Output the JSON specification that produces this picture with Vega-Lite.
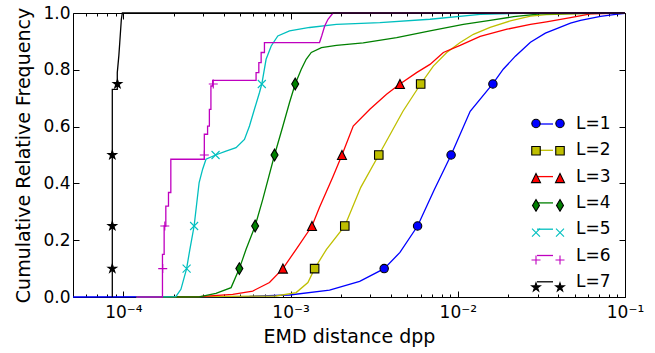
{
  "$schema": "https://vega.github.io/schema/vega-lite/v6.json",
  "width": 552,
  "height": 284,
  "autosize": {"type": "none"},
  "padding": {"left": 73, "top": 13, "right": 30, "bottom": 56},
  "background": "white",
  "config": {
    "font": "DejaVu Sans",
    "view": {"stroke": "#000000", "strokeWidth": 1},
    "axis": {"grid": false, "domain": false, "labelFlush": false, "labelFont": "DejaVu Sans", "titleFont": "DejaVu Sans", "labelColor": "#000000", "titleColor": "#000000", "tickColor": "#000000", "tickWidth": 1, "titleFontWeight": "normal", "labelFontSize": 17, "titleFontSize": 19},
    "legend": {"labelFont": "DejaVu Sans", "labelColor": "#000000", "labelFontSize": 17}
  },
  "resolve": {"scale": {"fill": "independent", "shape": "independent", "stroke": "independent"}},
  "datasets": {
    "lines": [
      {"series": "L=1", "x": 5e-5, "y": 0}, {"series": "L=1", "x": 2.84e-4, "y": 0.001}, {"series": "L=1", "x": 5.68e-4, "y": 0.0025}, {"series": "L=1", "x": 9.86e-4, "y": 0.007}, {"series": "L=1", "x": 1.71e-3, "y": 0.024}, {"series": "L=1", "x": 2.59e-3, "y": 0.055}, {"series": "L=1", "x": 3.63e-3, "y": 0.1}, {"series": "L=1", "x": 4.51e-3, "y": 0.157}, {"series": "L=1", "x": 5.75e-3, "y": 0.25}, {"series": "L=1", "x": 7.21e-3, "y": 0.376}, {"series": "L=1", "x": 9.12e-3, "y": 0.5}, {"series": "L=1", "x": 0.01186, "y": 0.654}, {"series": "L=1", "x": 0.01622, "y": 0.751}, {"series": "L=1", "x": 0.0187, "y": 0.802}, {"series": "L=1", "x": 0.0221, "y": 0.848}, {"series": "L=1", "x": 0.0272, "y": 0.897}, {"series": "L=1", "x": 0.0334, "y": 0.929}, {"series": "L=1", "x": 0.0394, "y": 0.946}, {"series": "L=1", "x": 0.0472, "y": 0.964}, {"series": "L=1", "x": 0.0542, "y": 0.974}, {"series": "L=1", "x": 0.0714, "y": 0.988}, {"series": "L=1", "x": 0.0879, "y": 0.995}, {"series": "L=1", "x": 0.1, "y": 0.999},
      {"series": "L=2", "x": 1.2e-4, "y": 0}, {"series": "L=2", "x": 2.84e-4, "y": 0.001}, {"series": "L=2", "x": 8.2e-4, "y": 0.0035}, {"series": "L=2", "x": 1.08e-3, "y": 0.0155}, {"series": "L=2", "x": 1.27e-3, "y": 0.0507}, {"series": "L=2", "x": 1.393e-3, "y": 0.1}, {"series": "L=2", "x": 1.64e-3, "y": 0.168}, {"series": "L=2", "x": 2.11e-3, "y": 0.25}, {"series": "L=2", "x": 2.63e-3, "y": 0.386}, {"series": "L=2", "x": 3.37e-3, "y": 0.5}, {"series": "L=2", "x": 4.7e-3, "y": 0.654}, {"series": "L=2", "x": 6.0e-3, "y": 0.75}, {"series": "L=2", "x": 7.14e-3, "y": 0.813}, {"series": "L=2", "x": 8.59e-3, "y": 0.861}, {"series": "L=2", "x": 0.01033, "y": 0.896}, {"series": "L=2", "x": 0.0124, "y": 0.925}, {"series": "L=2", "x": 0.0156, "y": 0.949}, {"series": "L=2", "x": 0.0206, "y": 0.972}, {"series": "L=2", "x": 0.0272, "y": 0.989}, {"series": "L=2", "x": 0.0339, "y": 0.994}, {"series": "L=2", "x": 0.0542, "y": 0.998}, {"series": "L=2", "x": 0.1, "y": 1},
      {"series": "L=3", "x": 1.2e-4, "y": 0}, {"series": "L=3", "x": 2.84e-4, "y": 0.001}, {"series": "L=3", "x": 4.51e-4, "y": 0.0095}, {"series": "L=3", "x": 5.94e-4, "y": 0.021}, {"series": "L=3", "x": 7.48e-4, "y": 0.051}, {"series": "L=3", "x": 9.0e-4, "y": 0.1}, {"series": "L=3", "x": 1.08e-3, "y": 0.168}, {"series": "L=3", "x": 1.343e-3, "y": 0.25}, {"series": "L=3", "x": 1.49e-3, "y": 0.316}, {"series": "L=3", "x": 1.787e-3, "y": 0.422}, {"series": "L=3", "x": 2.03e-3, "y": 0.5}, {"series": "L=3", "x": 2.37e-3, "y": 0.602}, {"series": "L=3", "x": 2.98e-3, "y": 0.661}, {"series": "L=3", "x": 3.75e-3, "y": 0.714}, {"series": "L=3", "x": 4.51e-3, "y": 0.75}, {"series": "L=3", "x": 5.67e-3, "y": 0.79}, {"series": "L=3", "x": 6.82e-3, "y": 0.819}, {"series": "L=3", "x": 8.2e-3, "y": 0.861}, {"series": "L=3", "x": 0.01033, "y": 0.886}, {"series": "L=3", "x": 0.01361, "y": 0.918}, {"series": "L=3", "x": 0.0197, "y": 0.943}, {"series": "L=3", "x": 0.0272, "y": 0.96}, {"series": "L=3", "x": 0.0339, "y": 0.969}, {"series": "L=3", "x": 0.0472, "y": 0.984}, {"series": "L=3", "x": 0.0622, "y": 0.997}, {"series": "L=3", "x": 0.1, "y": 1},
      {"series": "L=4", "x": 1.2e-4, "y": 0}, {"series": "L=4", "x": 2.84e-4, "y": 0.0005}, {"series": "L=4", "x": 3.58e-4, "y": 0.013}, {"series": "L=4", "x": 4.41e-4, "y": 0.033}, {"series": "L=4", "x": 4.94e-4, "y": 0.1}, {"series": "L=4", "x": 5.42e-4, "y": 0.168}, {"series": "L=4", "x": 6.14e-4, "y": 0.25}, {"series": "L=4", "x": 6.82e-4, "y": 0.344}, {"series": "L=4", "x": 8.02e-4, "y": 0.5}, {"series": "L=4", "x": 9.0e-4, "y": 0.602}, {"series": "L=4", "x": 9.86e-4, "y": 0.685}, {"series": "L=4", "x": 1.066e-3, "y": 0.75}, {"series": "L=4", "x": 1.159e-3, "y": 0.802}, {"series": "L=4", "x": 1.24e-3, "y": 0.837}, {"series": "L=4", "x": 1.33e-3, "y": 0.861}, {"series": "L=4", "x": 1.53e-3, "y": 0.878}, {"series": "L=4", "x": 1.88e-3, "y": 0.886}, {"series": "L=4", "x": 2.72e-3, "y": 0.895}, {"series": "L=4", "x": 4.31e-3, "y": 0.913}, {"series": "L=4", "x": 6.82e-3, "y": 0.937}, {"series": "L=4", "x": 0.0108, "y": 0.96}, {"series": "L=4", "x": 0.0156, "y": 0.974}, {"series": "L=4", "x": 0.0216, "y": 0.987}, {"series": "L=4", "x": 0.0312, "y": 0.997}, {"series": "L=4", "x": 0.1, "y": 1},
      {"series": "L=5", "x": 1.2e-4, "y": 0}, {"series": "L=5", "x": 2.06e-4, "y": 0.001}, {"series": "L=5", "x": 2.21e-4, "y": 0.027}, {"series": "L=5", "x": 2.39e-4, "y": 0.1}, {"series": "L=5", "x": 2.5e-4, "y": 0.168}, {"series": "L=5", "x": 2.65e-4, "y": 0.25}, {"series": "L=5", "x": 2.84e-4, "y": 0.403}, {"series": "L=5", "x": 2.98e-4, "y": 0.45}, {"series": "L=5", "x": 3.12e-4, "y": 0.485}, {"series": "L=5", "x": 3.56e-4, "y": 0.5}, {"series": "L=5", "x": 4.11e-4, "y": 0.514}, {"series": "L=5", "x": 4.72e-4, "y": 0.526}, {"series": "L=5", "x": 5.3e-4, "y": 0.555}, {"series": "L=5", "x": 5.68e-4, "y": 0.602}, {"series": "L=5", "x": 6.08e-4, "y": 0.661}, {"series": "L=5", "x": 6.52e-4, "y": 0.72}, {"series": "L=5", "x": 6.73e-4, "y": 0.75}, {"series": "L=5", "x": 7.14e-4, "y": 0.837}, {"series": "L=5", "x": 7.66e-4, "y": 0.884}, {"series": "L=5", "x": 8.39e-4, "y": 0.919}, {"series": "L=5", "x": 9.86e-4, "y": 0.937}, {"series": "L=5", "x": 1.3e-3, "y": 0.949}, {"series": "L=5", "x": 1.88e-3, "y": 0.96}, {"series": "L=5", "x": 3.42e-3, "y": 0.966}, {"series": "L=5", "x": 6.82e-3, "y": 0.978}, {"series": "L=5", "x": 0.01361, "y": 0.995}, {"series": "L=5", "x": 0.0272, "y": 0.9995}, {"series": "L=5", "x": 0.1, "y": 1},
      {"series": "L=6", "x": 1.2e-4, "y": 0}, {"series": "L=6", "x": 1.714e-4, "y": 0}, {"series": "L=6", "x": 1.714e-4, "y": 0.15}, {"series": "L=6", "x": 1.754e-4, "y": 0.15}, {"series": "L=6", "x": 1.754e-4, "y": 0.25}, {"series": "L=6", "x": 1.795e-4, "y": 0.25}, {"series": "L=6", "x": 1.795e-4, "y": 0.32}, {"series": "L=6", "x": 1.862e-4, "y": 0.32}, {"series": "L=6", "x": 1.862e-4, "y": 0.368}, {"series": "L=6", "x": 1.923e-4, "y": 0.368}, {"series": "L=6", "x": 1.923e-4, "y": 0.485}, {"series": "L=6", "x": 3.05e-4, "y": 0.485}, {"series": "L=6", "x": 3.05e-4, "y": 0.573}, {"series": "L=6", "x": 3.19e-4, "y": 0.573}, {"series": "L=6", "x": 3.19e-4, "y": 0.602}, {"series": "L=6", "x": 3.27e-4, "y": 0.602}, {"series": "L=6", "x": 3.27e-4, "y": 0.661}, {"series": "L=6", "x": 3.34e-4, "y": 0.661}, {"series": "L=6", "x": 3.34e-4, "y": 0.743}, {"series": "L=6", "x": 3.42e-4, "y": 0.743}, {"series": "L=6", "x": 3.42e-4, "y": 0.763}, {"series": "L=6", "x": 6.22e-4, "y": 0.763}, {"series": "L=6", "x": 6.22e-4, "y": 0.79}, {"series": "L=6", "x": 6.46e-4, "y": 0.79}, {"series": "L=6", "x": 6.46e-4, "y": 0.825}, {"series": "L=6", "x": 6.67e-4, "y": 0.825}, {"series": "L=6", "x": 6.67e-4, "y": 0.861}, {"series": "L=6", "x": 6.98e-4, "y": 0.861}, {"series": "L=6", "x": 6.98e-4, "y": 0.896}, {"series": "L=6", "x": 1.49e-3, "y": 0.896}, {"series": "L=6", "x": 1.535e-3, "y": 0.919}, {"series": "L=6", "x": 1.6e-3, "y": 0.954}, {"series": "L=6", "x": 1.675e-3, "y": 0.978}, {"series": "L=6", "x": 1.795e-3, "y": 1}, {"series": "L=6", "x": 0.1, "y": 1},
      {"series": "L=7", "x": 8.59e-5, "y": 0}, {"series": "L=7", "x": 8.59e-5, "y": 0.731}, {"series": "L=7", "x": 9.2e-5, "y": 0.731}, {"series": "L=7", "x": 9.2e-5, "y": 0.79}, {"series": "L=7", "x": 9.4e-5, "y": 0.85}, {"series": "L=7", "x": 9.52e-5, "y": 0.896}, {"series": "L=7", "x": 9.73e-5, "y": 0.978}, {"series": "L=7", "x": 9.87e-5, "y": 1}, {"series": "L=7", "x": 0.1, "y": 1}
    ],
    "marks": [
      {"L": "L=1", "x": 3.63e-3, "y": 0.1}, {"L": "L=1", "x": 5.75e-3, "y": 0.25}, {"L": "L=1", "x": 9.12e-3, "y": 0.5}, {"L": "L=1", "x": 0.01622, "y": 0.75},
      {"L": "L=2", "x": 1.393e-3, "y": 0.1}, {"L": "L=2", "x": 2.11e-3, "y": 0.25}, {"L": "L=2", "x": 3.37e-3, "y": 0.5}, {"L": "L=2", "x": 6.0e-3, "y": 0.75},
      {"L": "L=3", "x": 9.0e-4, "y": 0.1}, {"L": "L=3", "x": 1.343e-3, "y": 0.25}, {"L": "L=3", "x": 2.03e-3, "y": 0.5}, {"L": "L=3", "x": 4.51e-3, "y": 0.75},
      {"L": "L=4", "x": 4.94e-4, "y": 0.1}, {"L": "L=4", "x": 6.14e-4, "y": 0.25}, {"L": "L=4", "x": 8.02e-4, "y": 0.5}, {"L": "L=4", "x": 1.066e-3, "y": 0.75},
      {"L": "L=5", "x": 2.39e-4, "y": 0.1}, {"L": "L=5", "x": 2.65e-4, "y": 0.25}, {"L": "L=5", "x": 3.56e-4, "y": 0.5}, {"L": "L=5", "x": 6.73e-4, "y": 0.75},
      {"L": "L=6", "x": 1.72e-4, "y": 0.1}, {"L": "L=6", "x": 1.77e-4, "y": 0.25}, {"L": "L=6", "x": 3.05e-4, "y": 0.5}, {"L": "L=6", "x": 3.45e-4, "y": 0.75},
      {"L": "L=7", "x": 8.59e-5, "y": 0.1}, {"L": "L=7", "x": 8.59e-5, "y": 0.25}, {"L": "L=7", "x": 8.59e-5, "y": 0.5}, {"L": "L=7", "x": 9.22e-5, "y": 0.75}
    ]
  },
  "layer": [
    {
      "data": {"name": "lines"},
      "mark": {"type": "line", "strokeWidth": 1.3},
      "encoding": {
        "x": {"field": "x", "type": "quantitative", "scale": {"type": "log", "domain": [5e-5, 0.1], "nice": false},
          "axis": {"orient": "bottom", "values": [0.0001, 0.001, 0.01, 0.1], "labelExpr": "datum.value < 0.0002 ? '10⁻⁴' : datum.value < 0.002 ? '10⁻³' : datum.value < 0.02 ? '10⁻²' : '10⁻¹'", "ticks": false, "labelPadding": 7, "title": "EMD distance dpp", "titlePadding": 7}},
        "y": {"field": "y", "type": "quantitative", "scale": {"domain": [0, 1], "nice": false},
          "axis": {"orient": "left", "values": [0, 0.2, 0.4, 0.6, 0.8, 1], "format": ".1f", "ticks": false, "labelPadding": 3, "title": "Cumulative Relative Frequency", "titlePadding": 9}},
        "stroke": {"field": "series", "type": "nominal",
          "scale": {"range": ["#0000ff", "#bfbf00", "#ff0000", "#008000", "#00bfbf", "#bf00bf", "#000000"]},
          "legend": {"orient": "none", "legendX": 463, "legendY": 102, "title": null, "symbolType": "stroke", "symbolSize": 256, "symbolStrokeWidth": 1.3, "labelOffset": 22, "rowPadding": 9.3, "padding": 0}},
        "order": [{"field": "y", "type": "quantitative"}, {"field": "x", "type": "quantitative"}]
      }
    },
    {
      "data": {"name": "marks"},
      "mark": {"type": "point", "size": 100, "opacity": 1, "strokeWidth": 1.1},
      "encoding": {
        "x": {"field": "x", "type": "quantitative", "axis": {"orient": "top", "values": [0.0001, 0.001, 0.01, 0.1], "labels": false, "tickSize": -6, "title": null}},
        "y": {"field": "y", "type": "quantitative", "axis": {"orient": "right", "values": [0, 0.2, 0.4, 0.6, 0.8, 1], "labels": false, "tickSize": -6, "title": null}},
        "fill": {"field": "L", "type": "nominal", "legend": null,
          "scale": {"range": ["#0000ff", "#bfbf00", "#ff0000", "#008000", "#00bfbf", "#bf00bf", "#000000"]}},
        "shape": {"field": "L", "type": "nominal", "legend": null,
          "scale": {"range": [
            "M0.84,0A0.84,0.84,0,1,1,-0.84,0A0.84,0.84,0,1,1,0.84,0Z",
            "M-0.85,-0.85H0.85V0.85H-0.85Z",
            "M0,-0.9L0.9,0.9L-0.9,0.9Z",
            "M0,-1.17L0.7,0L0,1.17L-0.7,0Z",
            "M-0.8,-0.8L0.8,0.8M-0.8,0.8L0.8,-0.8",
            "M-0.9,0H0.9M0,-0.9V0.9",
            "M0,-0.9L0.202,-0.278L0.856,-0.278L0.327,0.106L0.529,0.728L0,0.344L-0.529,0.728L-0.327,0.106L-0.856,-0.278L-0.202,-0.278Z"
          ]}},
        "stroke": {"condition": [{"test": "datum.L === 'L=5'", "value": "#00bfbf"}, {"test": "datum.L === 'L=6'", "value": "#bf00bf"}], "value": "#000000"}
      }
    },
    {
      "data": {"name": "marks"},
      "mark": {"type": "point", "opacity": 0, "size": 100, "strokeWidth": 1.1},
      "encoding": {
        "x": {"field": "x", "type": "quantitative", "axis": {"orient": "bottom", "values": [0.0001, 0.001, 0.01, 0.1], "labels": false, "tickSize": -6, "title": null}},
        "y": {"field": "y", "type": "quantitative", "axis": {"orient": "left", "values": [0, 0.2, 0.4, 0.6, 0.8, 1], "labels": false, "tickSize": -6, "title": null}},
        "fill": {"field": "L", "type": "nominal",
          "scale": {"domain": ["L=1", "L=2", "L=3", "L=4", "L=5", "L=6", "L=7"], "range": ["#0000ff", "#bfbf00", "#ff0000", "#008000", "#00bfbf", "#bf00bf", "#000000"]},
          "legend": {"orient": "none", "legendX": 463, "legendY": 102, "title": null, "symbolSize": 100, "symbolOffset": 3.5, "labelExpr": "' '", "rowPadding": 9.3, "padding": 0, "symbolStrokeWidth": 1.1, "symbolOpacity": 1}},
        "shape": {"field": "L", "type": "nominal",
          "scale": {"domain": ["L=1", "L=2", "L=3", "L=4", "L=5", "L=6", "L=7"], "range": [
            "M-1.56,0A0.84,0.84,0,1,1,-3.24,0A0.84,0.84,0,1,1,-1.56,0ZM3.24,0A0.84,0.84,0,1,1,1.56,0A0.84,0.84,0,1,1,3.24,0Z",
            "M-3.25,-0.85H-1.55V0.85H-3.25ZM1.55,-0.85H3.25V0.85H1.55Z",
            "M-2.4,-0.9L-1.5,0.9L-3.3,0.9ZM2.4,-0.9L3.3,0.9L1.5,0.9Z",
            "M-2.4,-1.17L-1.7,0L-2.4,1.17L-3.1,0ZM2.4,-1.17L3.1,0L2.4,1.17L1.7,0Z",
            "M-3.2,-0.8L-1.6,0.8M-3.2,0.8L-1.6,-0.8M1.6,-0.8L3.2,0.8M1.6,0.8L3.2,-0.8",
            "M-3.3,0H-1.5M-2.4,-0.9V0.9M1.5,0H3.3M2.4,-0.9V0.9",
            "M-2.4,-0.9L-2.198,-0.278L-1.544,-0.278L-2.073,0.106L-1.871,0.728L-2.4,0.344L-2.929,0.728L-2.727,0.106L-3.256,-0.278L-2.602,-0.278ZM2.4,-0.9L2.602,-0.278L3.256,-0.278L2.727,0.106L2.929,0.728L2.4,0.344L1.871,0.728L2.073,0.106L1.544,-0.278L2.198,-0.278Z"
          ]},
          "legend": {"orient": "none", "legendX": 463, "legendY": 102, "title": null, "symbolSize": 100, "symbolOffset": 3.5, "labelExpr": "' '", "rowPadding": 9.3, "padding": 0, "symbolStrokeWidth": 1.1, "symbolOpacity": 1}},
        "stroke": {"field": "L", "type": "nominal",
          "scale": {"domain": ["L=1", "L=2", "L=3", "L=4", "L=5", "L=6", "L=7"], "range": ["#000000", "#000000", "#000000", "#000000", "#00bfbf", "#bf00bf", "#000000"]},
          "legend": {"orient": "none", "legendX": 463, "legendY": 102, "title": null, "symbolSize": 100, "symbolOffset": 3.5, "labelExpr": "' '", "rowPadding": 9.3, "padding": 0, "symbolStrokeWidth": 1.1, "symbolOpacity": 1}}
      }
    },
    {
      "data": {"name": "marks"},
      "mark": {"type": "point", "opacity": 0},
      "encoding": {
        "x": {"field": "x", "type": "quantitative", "axis": {"orient": "bottom", "values": [6e-5, 7e-5, 8e-5, 9e-5, 2e-4, 3e-4, 4e-4, 5e-4, 6e-4, 7e-4, 8e-4, 9e-4, 2e-3, 3e-3, 4e-3, 5e-3, 6e-3, 7e-3, 8e-3, 9e-3, 0.02, 0.03, 0.04, 0.05, 0.06, 0.07, 0.08, 0.09], "labels": false, "tickSize": -3, "title": null}},
        "y": {"field": "y", "type": "quantitative", "axis": null}
      }
    },
    {
      "data": {"name": "marks"},
      "mark": {"type": "point", "opacity": 0},
      "encoding": {
        "x": {"field": "x", "type": "quantitative", "axis": {"orient": "top", "values": [6e-5, 7e-5, 8e-5, 9e-5, 2e-4, 3e-4, 4e-4, 5e-4, 6e-4, 7e-4, 8e-4, 9e-4, 2e-3, 3e-3, 4e-3, 5e-3, 6e-3, 7e-3, 8e-3, 9e-3, 0.02, 0.03, 0.04, 0.05, 0.06, 0.07, 0.08, 0.09], "labels": false, "tickSize": -3, "title": null}},
        "y": {"field": "y", "type": "quantitative", "axis": null}
      }
    }
  ]
}
